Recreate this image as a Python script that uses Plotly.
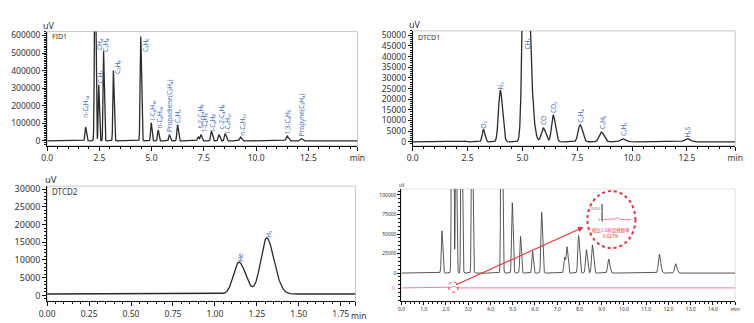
import numpy as np
import plotly.graph_objects as go

# ---------------- data ----------------
# FID1 (top-left)
fid_rt = [1.84, 2.30, 2.47, 2.70, 3.17, 4.48, 4.98, 5.31, 5.85, 6.24, 7.23, 7.36, 7.86, 8.22, 8.52, 9.25, 11.48, 12.15]
fid_h = [79000, 1500000, 320000, 510000, 400000, 595000, 103000, 62000, 35000, 92000, 22000, 35000, 55000, 35000, 41000, 22000, 28000, 13000]
fid_sl = [0.030, 0.030, 0.025, 0.025, 0.025, 0.028, 0.030, 0.030, 0.030, 0.032, 0.035, 0.035, 0.035, 0.038, 0.038, 0.042, 0.045, 0.045]
fid_sr = [0.040, 0.030, 0.030, 0.032, 0.034, 0.036, 0.036, 0.036, 0.036, 0.040, 0.042, 0.042, 0.045, 0.045, 0.048, 0.055, 0.060, 0.060]
fid_lab = ["n-C₆H₁₄", "C₂H₆", "CH₄", "C₂H₄", "C₃H₈", "C₃H₆", "i-C₄H₁₀", "n-C₄H₁₀",
           "Propadiene(C₃H₄)", "C₂H₂", "t-2-C₄H₈", "1-C₄H₈", "i-C₄H₈", "c-2-C₄H₈",
           "i-C₅H₁₂", "n-C₅H₁₂", "1,3-C₄H₆", "Propyne(C₃H₄)"]
fid_lab_x = [1.86, 2.54, 2.54, 2.76, 3.34, 4.68, 5.01, 5.36, 5.83, 6.23, 7.32, 7.55, 7.96, 8.34, 8.62, 9.37, 11.52, 12.19]
fid_lab_y = [123600, 322000, 513000, 500000, 375000, 500000, 112000, 62000, 47000, 95500, 67400, 41000, 50500, 61800, 41000, 22500, 32000, 22500]

# DTCD1 (top-right)
tcd1_rt = [2.40, 3.22, 3.99, 5.10, 5.95, 6.40, 7.63, 8.60, 9.57, 12.50]
tcd1_h = [400, 5900, 24300, 120000, 6500, 12600, 8000, 4600, 1500, 1500]
tcd1_sl = [0.05, 0.055, 0.080, 0.093, 0.085, 0.075, 0.090, 0.100, 0.110, 0.120]
tcd1_sr = [0.05, 0.070, 0.100, 0.200, 0.110, 0.100, 0.110, 0.120, 0.130, 0.150]
tcd1_lab = ["O₂", "N₂", "CH₄", "CO", "CO₂", "C₂H₄", "C₂H₆", "C₂H₂", "H₂S"]
tcd1_lab_x = [3.24, 4.02, 5.25, 5.96, 6.42, 7.67, 8.62, 9.61, 12.52]
tcd1_lab_y = [5860, 24300, 42800, 7400, 13100, 8450, 5400, 2300, 1540]

# DTCD2 (bottom-left)
tcd2_rt = [1.143, 1.308]
tcd2_h = [9000, 15800]
tcd2_sl = [0.032, 0.035]
tcd2_sr = [0.040, 0.045]
tcd2_base = 400
tcd2_lab = ["He", "H₂"]
tcd2_lab_x = [1.156, 1.315]
tcd2_lab_y = [9080, 16030]

# Overlay (bottom-right): sample run (black) and blank run after it (pink)
ov_rt = [0.75, 1.22, 1.82, 2.30, 2.45, 2.70, 3.17, 4.50, 4.98, 5.35, 5.89, 6.30, 7.33, 7.44, 7.96, 8.31, 8.58, 9.31, 11.59, 12.32]
ov_h = [700, 600, 54000, 1500000, 250000, 400000, 320000, 480000, 90000, 47000, 28000, 78000, 20000, 33000, 48000, 30000, 36000, 18000, 24000, 12000]
ov_sl = [0.05, 0.05, 0.030, 0.030, 0.025, 0.025, 0.025, 0.028, 0.030, 0.030, 0.030, 0.032, 0.035, 0.035, 0.035, 0.038, 0.038, 0.042, 0.045, 0.045]
ov_sr = [0.05, 0.05, 0.036, 0.030, 0.030, 0.032, 0.034, 0.036, 0.036, 0.036, 0.036, 0.040, 0.042, 0.042, 0.045, 0.045, 0.048, 0.055, 0.060, 0.060]
blank_rt = [1.23, 2.35]
blank_h = [600, 2300]
blank_s = [0.05, 0.045]
blank_zero = -19000          # level at which the blank run's zero is drawn
residual_text = ["相比1:1样品残留率", "0.027%"]

# ---------------- helpers ----------------
def chrom(t, rt, h, sl, sr, base=0.0):
    y = np.full_like(t, float(base))
    for c, a, l, r in zip(rt, h, sl, sr):
        s = np.where(t < c, l, r)
        y = y + a * np.exp(-0.5 * ((t - c) / s) ** 2)
    return y

W, H = 754, 323
def px(x):
    return x / W
def py(y):
    return 1 - y / H

FONT = "Noto Sans"
TXT = "#333333"
BLUE = "#4a74c9"
LINE = "#2a2a2a"
PINK = "#ef6fa6"
RED = "#e8303a"

x1max, x2max, x3max, x4max = 14.85, 14.70, 1.838, 15.0

t1 = np.linspace(0, x1max, 7000)
t2 = np.linspace(0, x2max, 5000)
t3 = np.linspace(0, x3max, 3000)
t4 = np.linspace(0, x4max, 7000)
t5 = np.linspace(1.6, 3.1, 600)

y1 = chrom(t1, fid_rt, fid_h, fid_sl, fid_sr)
y2 = chrom(t2, tcd1_rt, tcd1_h, tcd1_sl, tcd1_sr)
y3 = chrom(t3, tcd2_rt, tcd2_h, tcd2_sl, tcd2_sr, tcd2_base)
y4 = chrom(t4, ov_rt, ov_h, ov_sl, ov_sr)
y4b = chrom(t4, blank_rt, blank_h, blank_s, blank_s) + blank_zero
y5 = chrom(t5, blank_rt, blank_h, blank_s, blank_s)

fig = go.Figure()
fig.add_trace(go.Scatter(x=t1, y=y1, mode="lines", line=dict(color=LINE, width=1.3), xaxis="x", yaxis="y"))
fig.add_trace(go.Scatter(x=t2, y=y2, mode="lines", line=dict(color=LINE, width=1.3), xaxis="x2", yaxis="y2"))
fig.add_trace(go.Scatter(x=t3, y=y3, mode="lines", line=dict(color=LINE, width=1.3), xaxis="x3", yaxis="y3"))
fig.add_trace(go.Scatter(x=t4, y=y4, mode="lines", line=dict(color="#444444", width=0.9), xaxis="x4", yaxis="y4"))
fig.add_trace(go.Scatter(x=t4, y=y4b, mode="lines", line=dict(color=PINK, width=0.9), xaxis="x4", yaxis="y4"))
fig.add_trace(go.Scatter(x=t5, y=y5, mode="lines", line=dict(color=PINK, width=0.9), xaxis="x5", yaxis="y5"))

def xax(domain, anchor, rng, vals, texts, minor_dt, fs, ticklen=4):
    return dict(domain=domain, anchor=anchor, range=rng, showgrid=False, zeroline=False,
                showline=True, linecolor="#111111", linewidth=1, ticks="outside", ticklen=ticklen,
                tickcolor="#111111", tickmode="array", tickvals=vals, ticktext=texts, tickangle=0,
                tickfont=dict(family=FONT, size=fs, color=TXT),
                minor=dict(ticks="outside", ticklen=2, dtick=minor_dt, tick0=0, tickcolor="#111111"))

def yax(domain, anchor, rng, vals, minor_dt, fs, ticklen=4):
    return dict(domain=domain, anchor=anchor, range=rng, showgrid=False, zeroline=False,
                showline=True, linecolor="#111111", linewidth=1, ticks="outside", ticklen=ticklen,
                tickcolor="#111111", tickmode="array", tickvals=vals, ticktext=[str(v) for v in vals],
                tickfont=dict(family=FONT, size=fs, color=TXT),
                minor=dict(ticks="outside", ticklen=2, dtick=minor_dt, tick0=0, tickcolor="#111111"))

fid_yticks = [0, 100000, 200000, 300000, 400000, 500000, 600000]
tcd1_yticks = [0, 5000, 10000, 15000, 20000, 25000, 30000, 35000, 40000, 45000, 50000]
tcd2_yticks = [0, 5000, 10000, 15000, 20000, 25000, 30000]
ov_yticks = [0, 25000, 50000, 75000, 100000]

d1x = [px(40), px(357)];   d1y = [py(144), py(28)]
d2x = [px(413.5), px(743)]; d2y = [py(144), py(27.3)]
d3x = [px(40), px(355)];   d3y = [py(302), py(185)]
d4x = [px(402), px(743)];  d4y = [py(302), py(188)]
d5x = [px(608), px(637)];  d5y = [py(221), py(203)]

ann = []
shapes = []

layout = dict(
    width=W, height=H, margin=dict(l=0, r=0, t=0, b=0),
    paper_bgcolor="white", plot_bgcolor="white", showlegend=False,
    xaxis=xax(d1x, "y", [0, x1max], [0, 2.5, 5, 7.5, 10, 12.5, x1max],
              ["0.0", "2.5", "5.0", "7.5", "10.0", "12.5", "min"], 0.5, 8.5),
    yaxis=yax(d1y, "x", [-28000, 622400], fid_yticks, 10000, 8.5),
    xaxis2=xax(d2x, "y2", [0, x2max], [0, 2.5, 5, 7.5, 10, 12.5, x2max],
               ["0.0", "2.5", "5.0", "7.5", "10.0", "12.5", "min"], 0.5, 8.5),
    yaxis2=yax(d2y, "x2", [-1850, 52030], tcd1_yticks, 1000, 8.5),
    xaxis3=xax(d3x, "y3", [0, x3max], [0, 0.25, 0.5, 0.75, 1.0, 1.25, 1.5, 1.75, x3max],
               ["0.00", "0.25", "0.50", "0.75", "1.00", "1.25", "1.50", "1.75", ""], 0.05, 8.5),
    yaxis3=yax(d3y, "x3", [-1667, 30833], tcd2_yticks, 1000, 9),
    xaxis4=xax(d4x, "y4", [0, x4max], list(range(0, 15)) + [x4max],
               ["%.1f" % v for v in range(0, 15)] + ["min"], 0.2, 5, ticklen=3),
    yaxis4=yax(d4y, "x4", [-36190, 107570], ov_yticks, 5000, 5, ticklen=3),
    xaxis5=dict(domain=d5x, anchor="y5", range=[1.6, 3.1], visible=False),
    yaxis5=dict(domain=d5y, anchor="x5", range=[-1800, 14500], showgrid=False, zeroline=False,
                showline=True, linecolor="#888888", linewidth=0.6, ticks="outside", ticklen=1.5,
                tickcolor="#888888", tickmode="array", tickvals=[0, 10000], ticktext=["0", "10000"],
                tickfont=dict(family=FONT, size=3.5, color="#777777"),
                minor=dict(ticks="outside", ticklen=1, dtick=1000, tick0=0, tickcolor="#999999")),
)

# frames (light grey top/right)
for i, col in [("", "#c8c8c8"), ("2", "#c8c8c8"), ("3", "#c8c8c8"), ("4", "#e2e2e2")]:
    shapes.append(dict(type="rect", xref="x%s domain" % i, yref="y%s domain" % i,
                       x0=0, x1=1, y0=0, y1=1, line=dict(color=col, width=1), layer="below"))

# "min" unit of the DTCD2 time axis, directly after the last tick label
ann.append(dict(x=px(348.5), y=py(309), xref="paper", yref="paper", text="min", showarrow=False,
                xanchor="left", yanchor="top", font=dict(family=FONT, size=8.5, color=TXT)))

# "uV" unit labels and detector names
for xp, ypix, fs in [(42, 22, 9), (416, 21, 9), (43.5, 178, 9.5), (403, 184, 4.5)]:
    ann.append(dict(x=px(xp), y=py(ypix), xref="paper", yref="paper", text="uV", showarrow=False,
                    font=dict(family=FONT, size=fs, color=TXT), xanchor="center", yanchor="middle"))
for xp, ypix, name, fs in [(43, 33, "FID1", 7), (417, 34, "DTCD1", 7), (43, 190, "DTCD2", 8)]:
    ann.append(dict(x=px(xp), y=py(ypix), xref="paper", yref="paper", text=name, showarrow=False,
                    font=dict(family=FONT, size=fs, color=TXT), xanchor="left", yanchor="middle"))

# peak labels
def peak_labels(labs, xs, ys, xa, ya):
    for lab, xv, yv in zip(labs, xs, ys):
        ann.append(dict(x=xv, y=yv, xref=xa, yref=ya, text=lab, showarrow=False, textangle=-90,
                        xanchor="center", yanchor="bottom", borderpad=0,
                        font=dict(family=FONT, size=6.5, color=BLUE)))

peak_labels(fid_lab, fid_lab_x, fid_lab_y, "x", "y")
peak_labels(tcd1_lab, tcd1_lab_x, tcd1_lab_y, "x2", "y2")
peak_labels(tcd2_lab, tcd2_lab_x, tcd2_lab_y, "x3", "y3")

# pink zero label for the blank run
ann.append(dict(x=px(397), y=blank_zero, xref="paper", yref="y4", text="0", showarrow=False,
                xanchor="right", yanchor="middle", font=dict(family=FONT, size=5.5, color=PINK)))

# circles + arrow
shapes.append(dict(type="circle", xref="paper", yref="paper", x0=px(450), x1=px(460),
                   y0=py(292.7), y1=py(282.3), line=dict(color=RED, width=1, dash="dot")))
shapes.append(dict(type="circle", xref="paper", yref="paper", x0=px(592), x1=px(641),
                   y0=py(248), y1=py(190), line=dict(color=RED, width=2, dash="dot")))
ann.append(dict(x=px(588), y=py(226.7), xref="paper", yref="paper", ax=459 - 588, ay=285 - 226.7,
                axref="pixel", ayref="pixel", text="", showarrow=True, arrowhead=2, arrowsize=1,
                arrowwidth=1.1, arrowcolor=RED))
ann.append(dict(x=px(616.5), y=py(230.5), xref="paper", yref="paper", text=residual_text[0],
                showarrow=False, xanchor="center", yanchor="middle",
                font=dict(family="Noto Sans CJK SC", size=4.5, color=RED)))
ann.append(dict(x=px(616.5), y=py(236), xref="paper", yref="paper", text=residual_text[1],
                showarrow=False, xanchor="center", yanchor="middle",
                font=dict(family=FONT, size=4.5, color=RED)))

layout["annotations"] = ann
layout["shapes"] = shapes
fig.update_layout(**layout)
fig.write_html("out.html")
